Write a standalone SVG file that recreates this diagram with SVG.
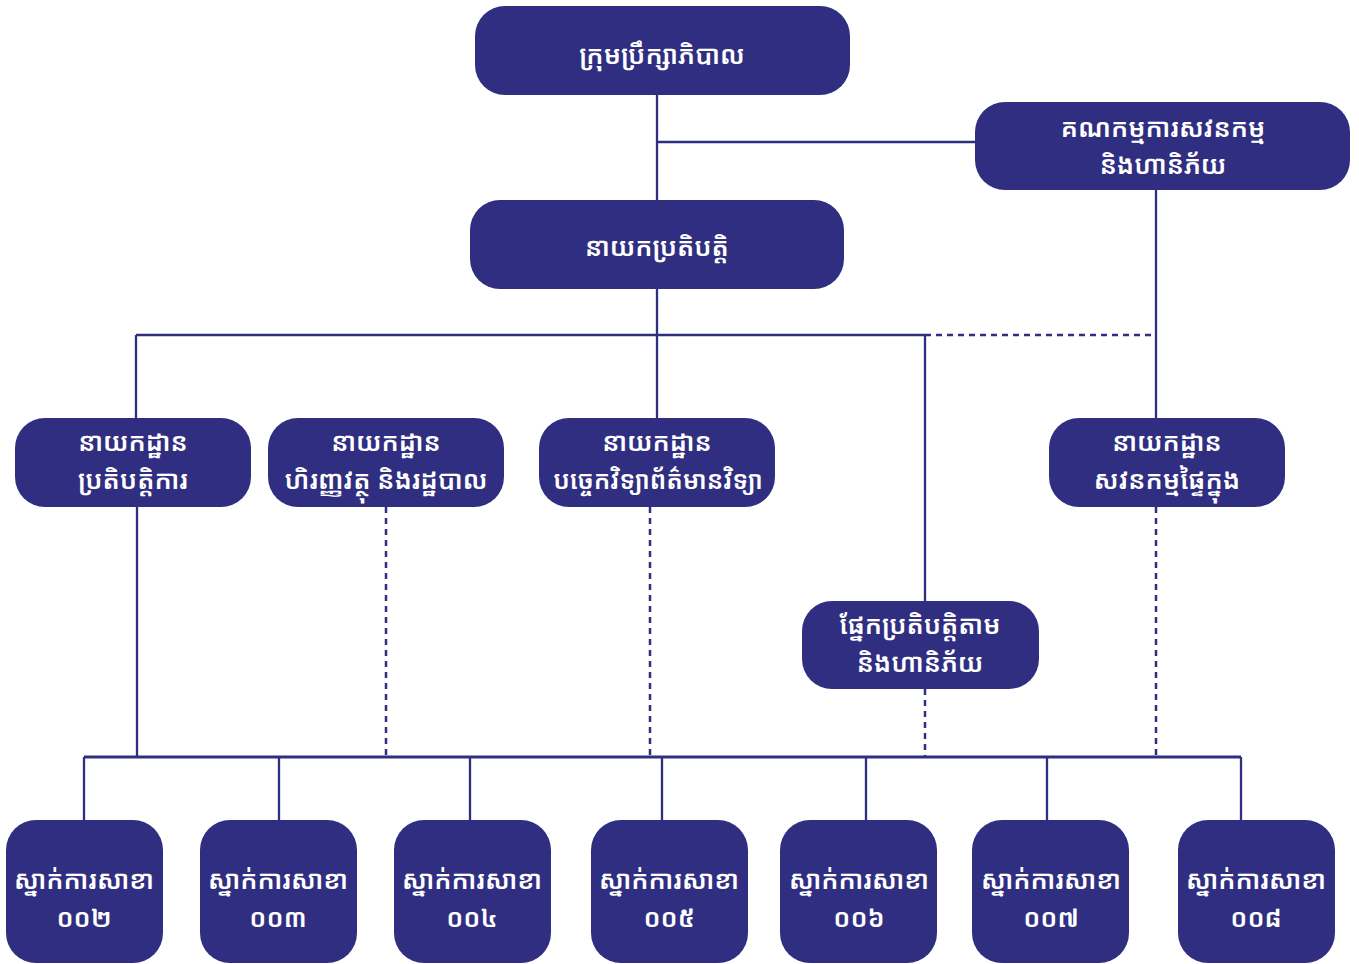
<svg xmlns="http://www.w3.org/2000/svg" width="1359" height="964" viewBox="0 0 1359 964">
<style>
.box{fill:#2f2e80}
.t{fill:#ffffff;font-family:"Noto Sans Khmer","Khmer OS Battambang","Khmer OS","Hanuman","Noto Sans",sans-serif;font-size:26px;font-weight:600;text-anchor:middle}
.ln{stroke:#2f2e80;stroke-width:2.3;fill:none}
.dl{stroke:#2f2e80;stroke-width:2.5;fill:none;stroke-dasharray:6 5}
</style>
<rect width="1359" height="964" fill="#ffffff"/>
<g id="connectors">
<path class="ln" d="M657 95V418M657 142H975M1156 190V418M136 335H925M136 335V418M925 335V601M137 507V757"/>
<path class="dl" d="M925 335H1156M386 507V757M650 507V757M925 689V757M1156 507V757"/>
<path class="ln" d="M84 757H1241" style="stroke-width:3"/>
<path class="ln" d="M84 757V820M279 757V820M470 757V820M662 757V820M866 757V820M1047 757V820M1241 757V820"/>
</g>
<g id="board"><rect class="box" x="475" y="6" width="375" height="89" rx="30"/><text class="t" x="662" y="64">ក្រុមប្រឹក្សាភិបាល</text></g>
<g id="audit-committee"><rect class="box" x="975" y="102" width="375" height="88" rx="30"/><text class="t" x="1163" y="137">គណកម្មការសវនកម្ម</text><text class="t" x="1163" y="174">និងហានិភ័យ</text></g>
<g id="ceo"><rect class="box" x="470" y="200" width="374" height="89" rx="30"/><text class="t" x="657" y="256">នាយកប្រតិបត្តិ</text></g>
<g id="dept-ops"><rect class="box" x="15" y="418" width="236" height="89" rx="30"/><text class="t" x="133" y="451">នាយកដ្ឋាន</text><text class="t" x="133" y="489">ប្រតិបត្តិការ</text></g>
<g id="dept-fin"><rect class="box" x="268" y="418" width="236" height="89" rx="30"/><text class="t" x="386" y="451">នាយកដ្ឋាន</text><text class="t" x="386" y="489">ហិរញ្ញវត្ថុ និងរដ្ឋបាល</text></g>
<g id="dept-it"><rect class="box" x="539" y="418" width="236" height="89" rx="30"/><text class="t" x="657" y="451">នាយកដ្ឋាន</text><text class="t" x="658" y="489" style="font-size:25px">បច្ចេកវិទ្យាព័ត៌មានវិទ្យា</text></g>
<g id="dept-audit"><rect class="box" x="1049" y="418" width="236" height="89" rx="30"/><text class="t" x="1167" y="451">នាយកដ្ឋាន</text><text class="t" x="1167" y="489">សវនកម្មផ្ទៃក្នុង</text></g>
<g id="risk"><rect class="box" x="802" y="601" width="237" height="88" rx="30"/><text class="t" x="920" y="634">ផ្នែកប្រតិបត្តិតាម</text><text class="t" x="920" y="672">និងហានិភ័យ</text></g>
<g id="b002"><rect class="box" x="6" y="820" width="157" height="143" rx="30"/><text class="t" x="84" y="889">ស្នាក់ការសាខា</text><text class="t" x="84" y="927">០០២</text></g>
<g id="b003"><rect class="box" x="200" y="820" width="157" height="143" rx="30"/><text class="t" x="278" y="889">ស្នាក់ការសាខា</text><text class="t" x="278" y="927">០០៣</text></g>
<g id="b004"><rect class="box" x="394" y="820" width="157" height="143" rx="30"/><text class="t" x="472" y="889">ស្នាក់ការសាខា</text><text class="t" x="472" y="927">០០៤</text></g>
<g id="b005"><rect class="box" x="591" y="820" width="157" height="143" rx="30"/><text class="t" x="669" y="889">ស្នាក់ការសាខា</text><text class="t" x="669" y="927">០០៥</text></g>
<g id="b006"><rect class="box" x="780" y="820" width="157" height="143" rx="30"/><text class="t" x="859" y="889">ស្នាក់ការសាខា</text><text class="t" x="859" y="927">០០៦</text></g>
<g id="b007"><rect class="box" x="972" y="820" width="157" height="143" rx="30"/><text class="t" x="1051" y="889">ស្នាក់ការសាខា</text><text class="t" x="1051" y="927">០០៧</text></g>
<g id="b008"><rect class="box" x="1178" y="820" width="157" height="143" rx="30"/><text class="t" x="1256" y="889">ស្នាក់ការសាខា</text><text class="t" x="1256" y="927">០០៨</text></g>
</svg>
